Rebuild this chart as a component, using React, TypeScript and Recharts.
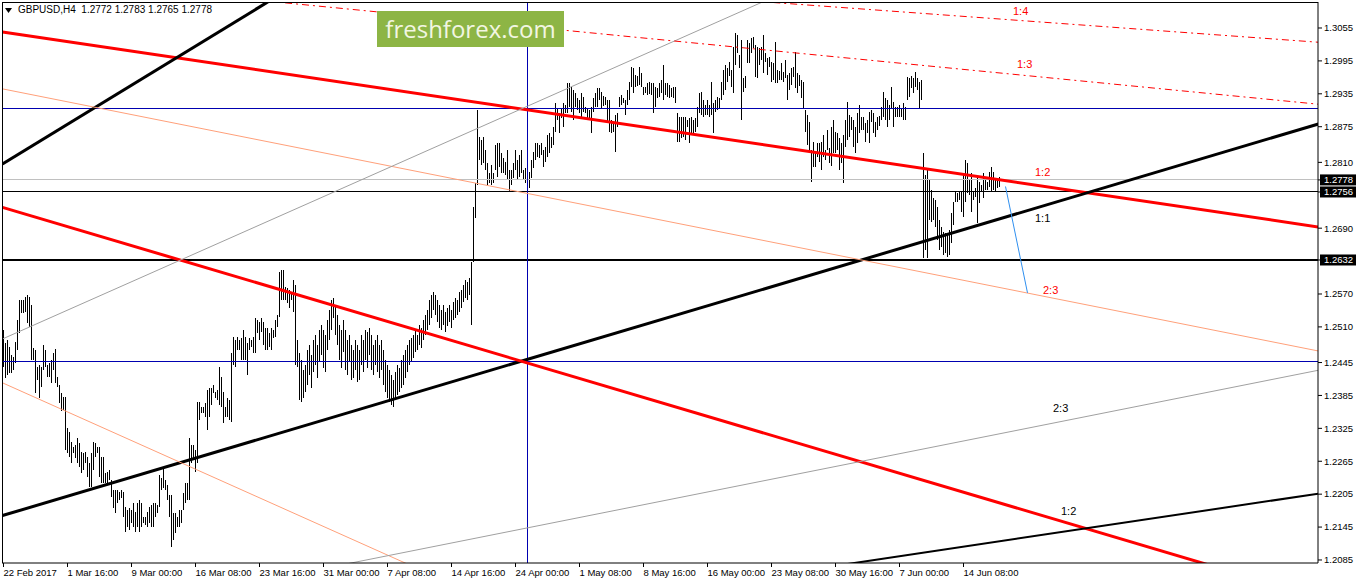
import React from "react";
import { ComposedChart, Bar, XAxis, YAxis, ReferenceLine } from "recharts";

// GBPUSD H4 bars, prices in pips (12504 = 1.2504), one bar every 4 hours from 22 Feb 2017
const highs = [
  12504, 12481, 12486, 12473, 12459, 12455, 12483, 12523, 12559, 12559,
  12559, 12565, 12568, 12565, 12550, 12472, 12468, 12437, 12441, 12437,
  12477, 12468, 12441, 12444, 12450, 12462, 12470, 12419, 12404, 12390,
  12382, 12382, 12326, 12318, 12300, 12291, 12295, 12307, 12298, 12282,
  12280, 12282, 12273, 12262, 12280, 12300, 12298, 12291, 12291, 12273,
  12273, 12244, 12246, 12249, 12231, 12213, 12213, 12213, 12209, 12213,
  12209, 12182, 12176, 12180, 12176, 12189, 12173, 12189, 12194, 12189,
  12164, 12164, 12173, 12182, 12185, 12189, 12189, 12185, 12240, 12235,
  12253, 12231, 12222, 12204, 12204, 12171, 12171, 12164, 12176, 12176,
  12207, 12225, 12225, 12307, 12295, 12295, 12286, 12373, 12373, 12364,
  12364, 12371, 12395, 12399, 12399, 12404, 12391, 12395, 12437, 12419,
  12391, 12364, 12380, 12377, 12462, 12492, 12486, 12492, 12486, 12490,
  12504, 12492, 12481, 12490, 12486, 12492, 12526, 12523, 12519, 12526,
  12519, 12508, 12508, 12499, 12508, 12504, 12523, 12532, 12610, 12614,
  12614, 12583, 12581, 12577, 12574, 12596, 12586, 12486, 12462,
  12450, 12431, 12441, 12468, 12477, 12459, 12486, 12495, 12477, 12504,
  12514, 12504, 12495, 12523, 12541, 12559, 12563, 12550, 12532, 12514,
  12504, 12523, 12504, 12486, 12495, 12477, 12468, 12486, 12477, 12468,
  12495, 12486, 12504, 12501, 12508, 12495, 12477, 12486, 12495, 12477,
  12486, 12468, 12450, 12441, 12431, 12422, 12413, 12428, 12441, 12435,
  12450, 12459, 12468, 12477, 12486, 12490, 12495, 12504, 12495, 12514,
  12508, 12523, 12532, 12541, 12559, 12568, 12574, 12568, 12559, 12550,
  12541, 12550, 12537, 12545, 12550, 12541, 12555, 12563, 12559, 12574,
  12577, 12586, 12596, 12592, 12599, 12628,
  12729, 12772, 12905, 12856, 12851, 12856, 12833, 12809, 12791, 12805,
  12791, 12842, 12845, 12845, 12827, 12818, 12811, 12833, 12796, 12796,
  12809, 12833, 12814, 12823, 12833, 12796, 12800, 12792, 12792, 12814,
  12829, 12845, 12845, 12842, 12845, 12833, 12838, 12860, 12864, 12856,
  12874, 12918, 12909, 12900, 12909, 12918, 12915, 12955, 12955, 12947,
  12942, 12936, 12927, 12924, 12936, 12929, 12911, 12909, 12905, 12911,
  12927, 12936, 12946, 12946, 12938, 12931, 12929, 12924, 12924, 12887,
  12884, 12896, 12900, 12929, 12933, 12927, 12924, 12942, 12957, 12984,
  12982, 12969, 12968, 12984, 12973, 12947, 12947, 12955, 12957, 12955,
  12955, 12947, 12946, 12955, 12960, 12988, 12955, 12955, 12951, 12946,
  12947, 12947, 12900, 12893, 12893, 12893, 12893, 12887, 12891, 12893,
  12887, 12891, 12911, 12936,
  12938, 12924, 12915, 12924, 12915, 12957, 12918, 12924, 12929, 12927,
  12957, 12978, 12988, 12982, 12993, 12978, 13020, 13046, 13042, 13006,
  13033, 12964, 12968, 13033, 13028, 13037, 13039, 13024, 13020, 13019,
  13020, 13042, 13009, 13000, 13002, 12993, 12991, 13029, 12978, 12977,
  12991, 12975, 12997, 12969, 12973, 12982, 12984, 13011, 12973, 12969,
  12960, 12957, 12905, 12896, 12884, 12833, 12847, 12827, 12845, 12845,
  12847, 12860, 12833, 12869, 12836, 12874, 12887, 12865, 12864, 12854,
  12845, 12860, 12887, 12920, 12896, 12893, 12887, 12874, 12900, 12915,
  12893, 12893, 12882, 12887, 12902, 12905, 12900, 12884, 12893, 12894,
  12911, 12938, 12927, 12924, 12915, 12947, 12920, 12911, 12911, 12915,
  12909, 12918, 12911, 12966, 12964, 12968, 12964, 12975, 12964, 12957, 12960,
  12827, 12787, 12800, 12778, 12760, 12745, 12741, 12729, 12705, 12692,
  12683, 12681, 12678, 12687, 12718, 12738, 12756, 12754, 12756, 12756,
  12791, 12814, 12809, 12778, 12791, 12756, 12763, 12783, 12774, 12769,
  12791, 12782, 12774, 12792, 12802, 12792, 12778, 12782, 12783,
];

const lows = [
  12437, 12417, 12422, 12426, 12426, 12431, 12444, 12468, 12499, 12535,
  12535, 12537, 12517, 12510, 12450, 12450, 12390, 12413, 12380, 12400,
  12431, 12437, 12419, 12419, 12408, 12431, 12408, 12400, 12371, 12358,
  12358, 12286, 12280, 12273, 12262, 12280, 12271, 12262, 12255, 12244,
  12249, 12262, 12236, 12218, 12218, 12249, 12273, 12280, 12236, 12225,
  12225, 12225, 12225, 12231, 12200, 12180, 12171, 12189, 12194, 12198,
  12164, 12136, 12145, 12140, 12153, 12145, 12136, 12145, 12135, 12145,
  12153, 12149, 12145, 12153, 12145, 12145, 12164, 12171, 12182, 12213,
  12216, 12213, 12194, 12164, 12109, 12122, 12135, 12145, 12145, 12153,
  12176, 12189, 12194, 12194, 12262, 12268, 12246, 12262, 12340, 12353,
  12353, 12346, 12322, 12346, 12368, 12390, 12380, 12377, 12368, 12364,
  12335, 12346, 12346, 12340, 12337, 12441, 12437, 12468, 12468, 12450,
  12450, 12450, 12422, 12468, 12473, 12462, 12462, 12499, 12486, 12501,
  12477, 12468, 12468, 12473, 12468, 12490, 12492, 12510, 12528, 12559,
  12559, 12559, 12554, 12545, 12559, 12537, 12441, 12437, 12377,
  12373, 12380, 12391, 12404, 12422, 12399, 12428, 12441, 12417, 12446,
  12459, 12435, 12428, 12468, 12486, 12504, 12526, 12495, 12477, 12450,
  12435, 12464, 12431, 12422, 12446, 12413, 12417, 12431, 12410, 12413,
  12441, 12428, 12450, 12435, 12459, 12431, 12422, 12441, 12428, 12417,
  12431, 12404, 12391, 12380, 12373, 12368, 12364, 12377, 12386, 12391,
  12399, 12404, 12417, 12428, 12441, 12446, 12453, 12464, 12468, 12477,
  12472, 12486, 12495, 12504, 12514, 12526, 12541, 12532, 12519, 12508,
  12504, 12514, 12501, 12512, 12519, 12508, 12523, 12526, 12532, 12537,
  12545, 12555, 12563, 12559, 12568, 12514,
  12628, 12709, 12769, 12814, 12805, 12809, 12796, 12769, 12772, 12769,
  12772, 12796, 12783, 12802, 12791, 12791, 12787, 12778, 12756, 12769,
  12782, 12796, 12778, 12783, 12791, 12778, 12772, 12772, 12763, 12782,
  12800, 12814, 12820, 12818, 12823, 12802, 12811, 12820, 12827, 12836,
  12842, 12865, 12887, 12864, 12891, 12874, 12900, 12900, 12911, 12902,
  12887, 12911, 12905, 12900, 12893, 12902, 12900, 12891, 12891, 12864,
  12902, 12911, 12911, 12924, 12909, 12913, 12915, 12882, 12865, 12864,
  12865, 12829, 12874, 12911, 12915, 12918, 12896, 12915, 12924, 12947,
  12936, 12947, 12949, 12951, 12947, 12933, 12936, 12933, 12936, 12933,
  12900, 12911, 12927, 12929, 12936, 12924, 12933, 12929, 12927, 12929,
  12927, 12918, 12847, 12847, 12854, 12856, 12851, 12874, 12845, 12860,
  12864, 12865, 12874, 12900,
  12896, 12893, 12896, 12896, 12894, 12896, 12864, 12902, 12905, 12909,
  12924, 12933, 12942, 12957, 12968, 12947, 12936, 12988, 13009, 12982,
  12887, 12938, 12946, 12991, 12991, 13009, 13019, 12966, 12964, 12988,
  12997, 12973, 12993, 12969, 12984, 12957, 12960, 12955, 12955, 12960,
  12960, 12957, 12964, 12924, 12942, 12951, 12966, 12946, 12936, 12949,
  12927, 12909, 12864, 12842, 12829, 12774, 12802, 12802, 12820, 12811,
  12796, 12820, 12814, 12833, 12809, 12802, 12827, 12827, 12833, 12796,
  12809, 12772, 12838, 12851, 12856, 12869, 12838, 12827, 12845, 12864,
  12869, 12869, 12847, 12864, 12845, 12884, 12864, 12856, 12869, 12876,
  12887, 12893, 12887, 12874, 12887, 12909, 12874, 12893, 12893, 12893,
  12893, 12887, 12887, 12924, 12929, 12946, 12936, 12947, 12942, 12909, 12924,
  12636, 12650, 12636, 12705, 12701, 12705, 12692, 12668, 12650, 12656,
  12641, 12645, 12637, 12641, 12663, 12696, 12738, 12738, 12741, 12720,
  12710, 12738, 12754, 12750, 12720, 12741, 12747, 12699, 12736, 12756,
  12745, 12760, 12760, 12765, 12756, 12760, 12756, 12763, 12765,
];

// time axis: bar index of each label
const dateTicks = [0, 32, 64, 96, 128, 160, 192, 224, 256, 288, 320, 352, 384, 416, 448, 480];
const dateLabels = [
  "22 Feb 2017", "1 Mar 16:00", "9 Mar 00:00", "16 Mar 08:00", "23 Mar 16:00",
  "31 Mar 00:00", "7 Apr 08:00", "14 Apr 16:00", "24 Apr 00:00", "1 May 08:00",
  "8 May 16:00", "16 May 00:00", "23 May 08:00", "30 May 16:00", "7 Jun 00:00",
  "14 Jun 08:00",
];

const priceTicks = [
  1.3055, 1.2995, 1.2935, 1.2875, 1.281, 1.269, 1.257,
  1.251, 1.2445, 1.2385, 1.2325, 1.2265, 1.2205, 1.2145, 1.2085,
];
// levels with a black price tag on the axis
const markedPrices = [1.2778, 1.2756, 1.2632];

// horizontal levels
const levels = [
  { y: 1.2909, color: "#0000b0", w: 1 },
  { y: 1.2447, color: "#0000b0", w: 1 },
  { y: 1.2778, color: "#c0c0c0", w: 1 },
  { y: 1.2756, color: "#000000", w: 1 },
  { y: 1.2632, color: "#000000", w: 2 },
];
const vLineBar = 262;

// trend / fan lines: [bar index, price] pairs
const trendLines = [
  { a: [-0.5, 1.30477], b: [657.5, 1.26922], color: "#ff0000", w: 3 },
  { a: [-0.5, 1.2807], b: [140, 1.312], color: "#000000", w: 3 },
  { a: [-0.5, 1.2166], b: [657.5, 1.288], color: "#000000", w: 3 },
  { a: [-0.5, 1.2728], b: [610, 1.2068], color: "#ff0000", w: 3 },
  { a: [-0.5, 1.2944], b: [657.5, 1.2466], color: "#ffa07a", w: 1 },
  { a: [-0.5, 1.2408], b: [208.5, 1.2067], color: "#ffa07a", w: 1 },
  { a: [-0.5, 1.2488], b: [388.5, 1.3117], color: "#a0a0a0", w: 1 },
  { a: [163.5, 1.2072], b: [657.5, 1.2431], color: "#a0a0a0", w: 1 },
  { a: [413.5, 1.2073], b: [657.5, 1.2206], color: "#000000", w: 2 },
  { a: [98.5, 1.3116], b: [657.5, 1.2916], color: "#ff0000", w: 1, dash: "7 4 2 4" },
  { a: [334, 1.3115], b: [657.5, 1.3029], color: "#ff0000", w: 1, dash: "7 4 2 4" },
  { a: [501, 1.2766], b: [512, 1.2572], color: "#2f8fef", w: 1 },
];

const fanLabels = [
  { t: "1:4", x: 1013, y: 11, c: "#ff0000" },
  { t: "1:3", x: 1017, y: 64, c: "#ff0000" },
  { t: "1:2", x: 1035, y: 172, c: "#ff0000" },
  { t: "1:1", x: 1035, y: 218, c: "#000000" },
  { t: "2:3", x: 1043, y: 290, c: "#ff0000" },
  { t: "2:3", x: 1053, y: 408, c: "#000000" },
  { t: "1:2", x: 1061, y: 511, c: "#000000" },
];

const FONT = '"Liberation Sans", Arial, sans-serif';
const Y_MIN = 1.20795;
const Y_MAX = 1.31024;

const n = Math.min(highs.length, lows.length);
const data = highs.slice(0, n).map((h, i) => ({ i, hl: [lows[i] / 1e4, h / 1e4] }));

// one crisp 1px high-low stick per bar
function HLBar(p: any) {
  const { x, y, width, height } = p;
  if (x == null || y == null || height == null || isNaN(y) || isNaN(height)) return null;
  const top = Math.round(Math.min(y, y + height));
  const h = Math.max(1, Math.round(Math.abs(height)));
  const cx = Math.floor(x + width / 2);
  return <rect x={cx} y={top} width={1} height={h} fill="#000" shapeRendering="crispEdges" />;
}

function XTick(props: any) {
  const { x, y, payload } = props;
  const k = dateTicks.indexOf(payload.value);
  return (
    <text x={x} y={y} dy="0.71em" textAnchor="start" fontSize={9.5} fontFamily={FONT} fill="#000">
      {dateLabels[k]}
    </text>
  );
}

function YTick(props: any) {
  const { x, y, payload } = props;
  const v = payload.value;
  const marked = markedPrices.includes(v);
  return (
    <g>
      {marked && <rect x={x - 4} y={y - 5.5} width={36} height={11} fill="#000" />}
      <text x={x} y={y} dy="0.35em" textAnchor="start" fontSize={9.5} fontFamily={FONT} fill={marked ? "#fff" : "#000"}>
        {v.toFixed(4)}
      </text>
    </g>
  );
}

export default function App() {
  return (
    <div style={{ position: "absolute", left: 0, top: 0, width: 1358, height: 584, background: "#fff", fontFamily: FONT }}>
      <ComposedChart width={1358} height={584} data={data} margin={{ top: 2, right: 0, bottom: 0, left: 2 }}>
        <XAxis
          dataKey="i"
          type="number"
          domain={[-0.75, 657.25]}
          allowDataOverflow
          ticks={dateTicks}
          interval={0}
          tick={XTick}
          tickSize={4}
          tickMargin={2}
          height={21}
          stroke="#000"
        />
        <YAxis
          orientation="right"
          type="number"
          domain={[Y_MIN, Y_MAX]}
          allowDataOverflow
          ticks={[...priceTicks, ...markedPrices]}
          interval={0}
          tick={YTick}
          tickSize={4}
          tickMargin={2}
          width={40}
          stroke="#000"
        />
        {levels.map((l, k) => (
          <ReferenceLine key={"h" + k} y={l.y} stroke={l.color} strokeWidth={l.w} ifOverflow="hidden" shapeRendering="crispEdges" />
        ))}
        <ReferenceLine x={vLineBar} stroke="#0000b0" strokeWidth={1} ifOverflow="hidden" shapeRendering="crispEdges" />
        {trendLines.map((t, k) => (
          <ReferenceLine
            key={"t" + k}
            segment={[{ x: t.a[0], y: t.a[1] }, { x: t.b[0], y: t.b[1] }]}
            stroke={t.color}
            strokeWidth={t.w}
            strokeDasharray={t.dash}
            ifOverflow="hidden"
          />
        ))}
        <Bar dataKey="hl" fill="#000" barSize={1} shape={HLBar} isAnimationActive={false} />
      </ComposedChart>

      <div style={{ position: "absolute", left: 2, top: 2, width: 1316, height: 561, borderLeft: "1px solid #000", borderTop: "1px solid #000", boxSizing: "border-box", pointerEvents: "none" }} />

      <svg style={{ position: "absolute", left: 5, top: 8 }} width={8} height={6}>
        <polygon points="0,0 7,0 3.5,5" fill="#000" />
      </svg>
      <div style={{ position: "absolute", left: 18, top: 4, fontSize: 10, lineHeight: "12px", color: "#000", whiteSpace: "pre" }}>
        GBPUSD,H4  1.2772 1.2783 1.2765 1.2778
      </div>

      <div style={{ position: "absolute", left: 377, top: 11, width: 187, height: 36, background: "#8db545", color: "#f2f6e2", fontFamily: '"Open Sans", sans-serif', fontSize: 24, lineHeight: "35px", textAlign: "center" }}>
        freshforex.com
      </div>

      {fanLabels.map((f, k) => (
        <div key={"f" + k} style={{ position: "absolute", left: f.x, top: f.y - 6, fontSize: 11, lineHeight: "12px", color: f.c, whiteSpace: "pre" }}>
          {f.t}
        </div>
      ))}
    </div>
  );
}
